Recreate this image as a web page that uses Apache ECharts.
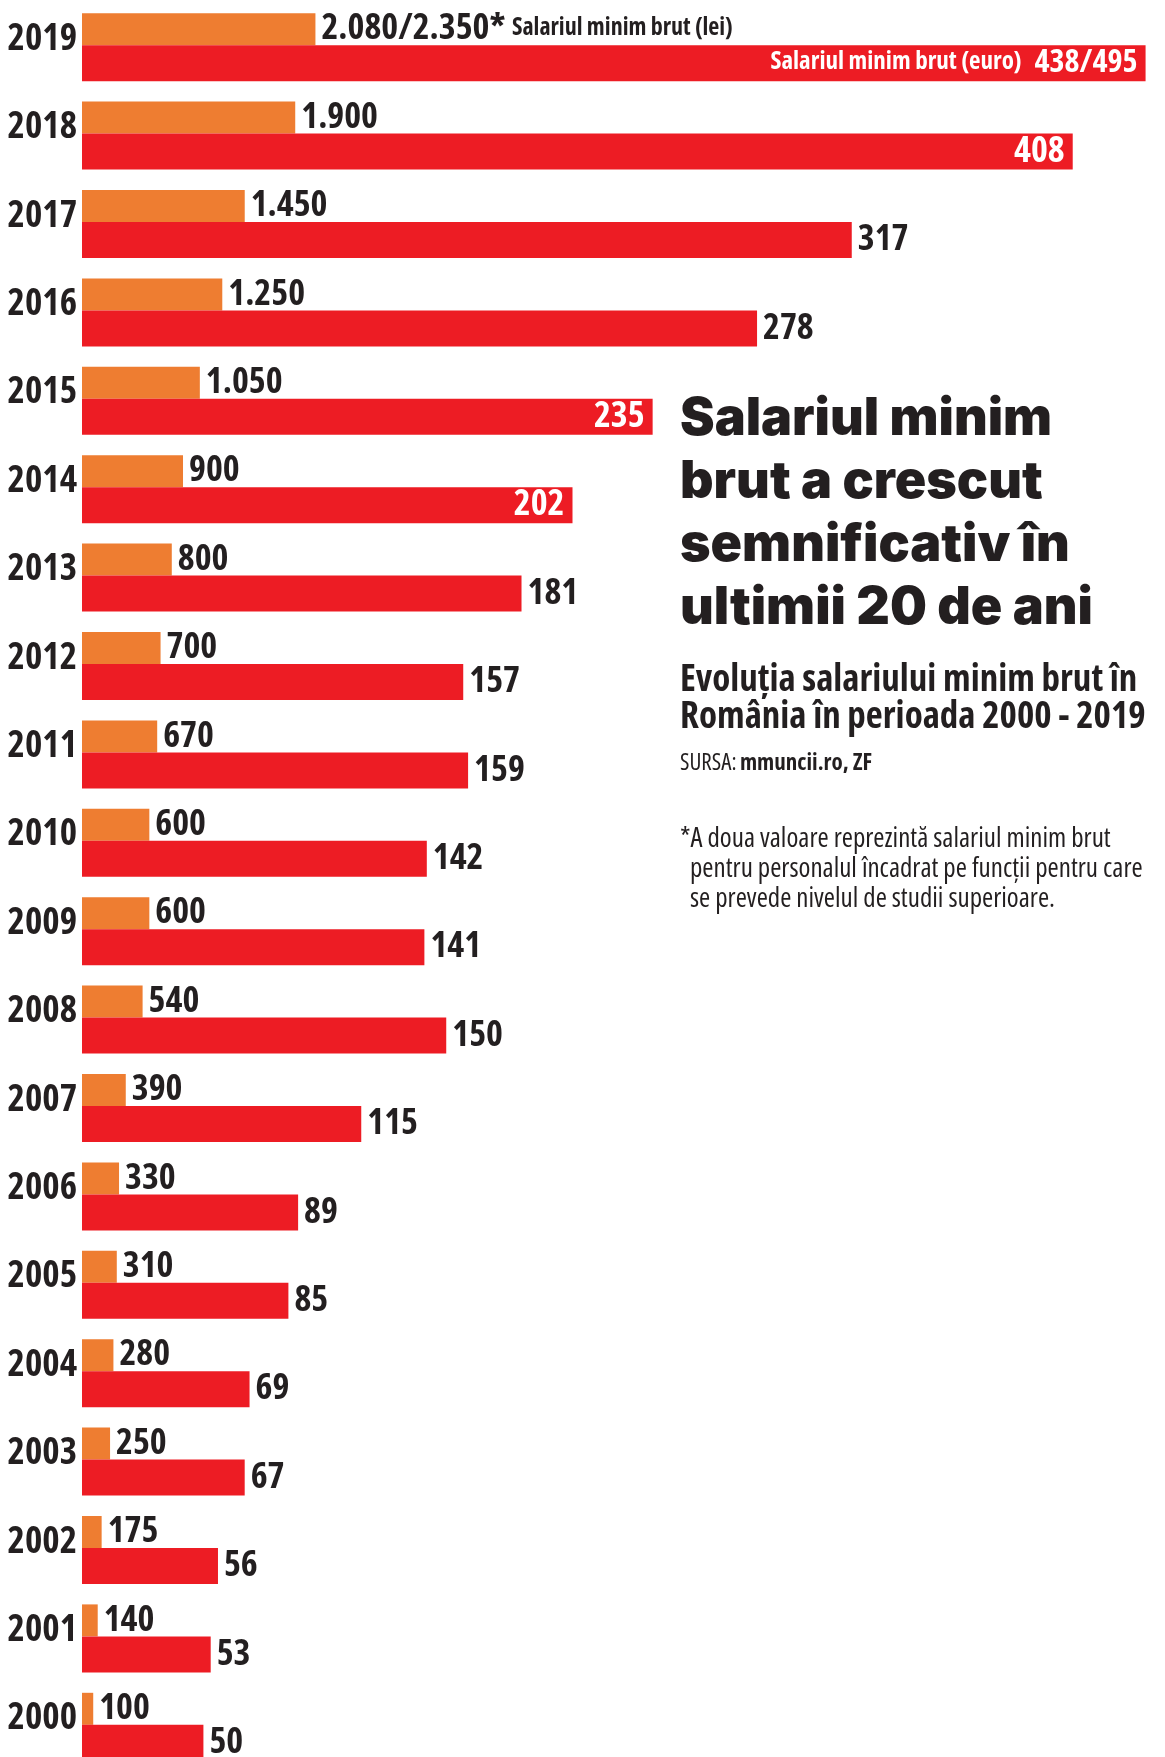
<!DOCTYPE html>
<html>
<head>
<meta charset="utf-8">
<script src="https://cdn.jsdelivr.net/npm/echarts@6/dist/echarts.min.js"></script>
<style>
  html, body { margin: 0; padding: 0; background: #fff; overflow: hidden; }
  #main { width: 1165px; height: 1757px; }
</style>
</head>
<body>
<div id="main"></div>
<script>
// ani, de sus in jos
var years = ['2019', '2018', '2017', '2016', '2015', '2014', '2013', '2012', '2011', '2010',
  '2009', '2008', '2007', '2006', '2005', '2004', '2003', '2002', '2001', '2000']
// salariul minim brut (lei)
var leiValues = [2080, 1900, 1450, 1250, 1050, 900, 800, 700, 670, 600,
  600, 540, 390, 330, 310, 280, 250, 175, 140, 100]
// salariul minim brut (euro)
var euroValues = [438, 408, 317, 278, 235, 202, 181, 157, 159, 142,
  141, 150, 115, 89, 85, 69, 67, 56, 53, 50]
// a doua valoare 2019 (studii superioare)
var leiSuperior = 2350
var euroSuperior = 495
// ani cu eticheta in interiorul barei rosii
var insideYears = ['2019', '2018', '2015', '2014']

var DARK = '#231f20'
var ORANGE = '#ee7d31'
var RED = '#ed1c24'
var NARROW = "'Open Sans', 'Roboto', sans-serif"
// font-stretch trece prin fontStyle in stringul de font al canvasului
var COND = 'condensed'
var TITLE_FONT = "900 52px Inter, 'Noto Sans', sans-serif"
var SUB_FONT = "condensed bold 37px 'Open Sans'"
var NOTE_FONT = "condensed 27px 'Open Sans'"

function fmt (v) {
  return String(v).replace(/\B(?=(\d{3})+(?!\d))/g, '.')
}

function txt (style) {
  return { fontFamily: NARROW, fontStyle: COND, fontWeight: 'bold', fontSize: 36, color: DARK, ...style }
}

var chart = echarts.init(document.getElementById('main'))

var redData = euroValues.map(function (v, i) {
  var item = { value: v }
  if (insideYears.indexOf(years[i]) >= 0) {
    item.label = { position: 'insideRight', color: '#fff', distance: 8 }
  }
  return item
})

var options = {
  animation: false,
  grid: {
    left: 82,
    right: 0,
    top: 3,
    bottom: -14,
    containLabel: false,
    outerBoundsMode: 'none'
  },
  xAxis: [
    { type: 'value', min: 0, max: 9650, show: false },
    { type: 'value', min: 0, max: 446, show: false }
  ],
  yAxis: {
    type: 'category',
    data: years,
    inverse: true,
    axisLine: { show: false },
    axisTick: { show: false },
    axisLabel: txt({
      margin: 5,
      fontSize: 37,
      verticalAlign: 'bottom',
      lineHeight: 16
    })
  },
  series: [
    {
      name: 'lei',
      type: 'bar',
      xAxisIndex: 0,
      data: leiValues,
      barWidth: 32,
      barGap: '0%',
      itemStyle: { color: ORANGE },
      label: txt({
        show: true,
        position: 'right',
        distance: 6,
        formatter: function (p) {
          if (p.dataIndex === 0) {
            return '{v|' + fmt(p.value) + '/' + fmt(leiSuperior) + '*} {s|Salariul minim brut (lei)}'
          }
          return fmt(p.value)
        },
        rich: {
          v: txt({}),
          s: txt({ fontSize: 24, padding: [0, 0, 3, 0] })
        }
      })
    },
    {
      name: 'euro',
      type: 'bar',
      xAxisIndex: 1,
      data: redData,
      barWidth: 36,
      itemStyle: { color: RED },
      label: txt({
        show: true,
        position: 'right',
        distance: 6,
        formatter: function (p) {
          if (p.dataIndex === 0) {
            return '{s|Salariul minim brut (euro)}  {v|' + p.value + '/' + euroSuperior + '}'
          }
          return p.value
        },
        rich: {
          v: txt({ fontSize: 32, color: '#fff' }),
          s: txt({ fontSize: 25, color: '#fff', padding: [0, 0, 2, 0] })
        }
      })
    }
  ],
  graphic: [
    { type: 'text', x: 680, y: 419, style: { text: 'Salariul minim', font: TITLE_FONT, fill: DARK, verticalAlign: 'middle' } },
    { type: 'text', x: 680, y: 482, style: { text: 'brut a crescut', font: TITLE_FONT, fill: DARK, verticalAlign: 'middle' } },
    { type: 'text', x: 680, y: 545, style: { text: 'semnificativ în', font: TITLE_FONT, fill: DARK, verticalAlign: 'middle' } },
    { type: 'text', x: 680, y: 608, style: { text: 'ultimii 20 de ani', font: TITLE_FONT, fill: DARK, verticalAlign: 'middle' } },
    { type: 'text', x: 680, y: 680, style: { text: 'Evoluția salariului minim brut în', font: SUB_FONT, fill: DARK, verticalAlign: 'middle' } },
    { type: 'text', x: 680, y: 717, style: { text: 'România în perioada 2000 - 2019', font: SUB_FONT, fill: DARK, verticalAlign: 'middle' } },
    {
      type: 'text', x: 680, y: 763,
      style: {
        text: '{r|SURSA:} {b|mmuncii.ro, ZF}',
        verticalAlign: 'middle',
        rich: {
          r: { fontFamily: NARROW, fontStyle: COND, fontSize: 23, fill: DARK },
          b: { fontFamily: NARROW, fontStyle: COND, fontWeight: 'bold', fontSize: 23, fill: DARK }
        }
      }
    },
    { type: 'text', x: 680, y: 839, style: { text: '*A doua valoare reprezintă salariul minim brut', font: NOTE_FONT, fill: DARK, verticalAlign: 'middle' } },
    { type: 'text', x: 690, y: 869, style: { text: 'pentru personalul încadrat pe funcții pentru care', font: NOTE_FONT, fill: DARK, verticalAlign: 'middle' } },
    { type: 'text', x: 690, y: 899, style: { text: 'se prevede nivelul de studii superioare.', font: NOTE_FONT, fill: DARK, verticalAlign: 'middle' } }
  ]
}

chart.setOption(options)
</script>
</body>
</html>
